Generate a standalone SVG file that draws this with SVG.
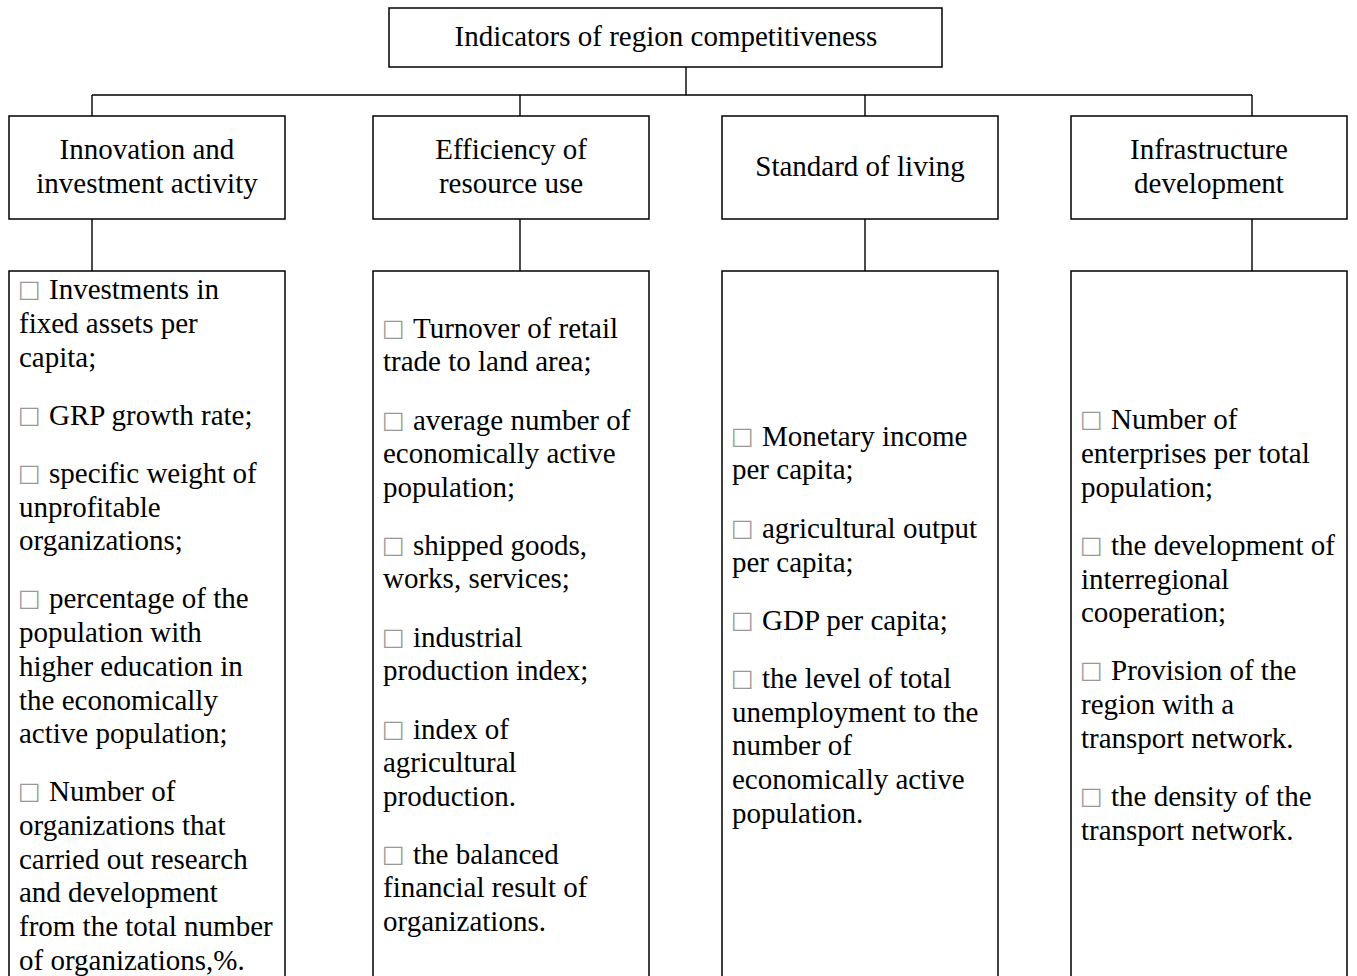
<svg xmlns="http://www.w3.org/2000/svg" width="1357" height="976" viewBox="0 0 1357 976">
<style>
.box{fill:#fff;stroke:#000;stroke-width:1.5}
.con{fill:none;stroke:#000;stroke-width:1.4}
text{font-family:"Liberation Serif","Times New Roman",serif;font-size:29px;fill:#000}
.c{text-anchor:middle}
.b{font-family:"DejaVu Sans",sans-serif;font-size:24px;fill:#999;baseline-shift:2px}
</style>
<rect width="1357" height="976" fill="#fff"/>
<g id="connectors">
<path class="con" d="M686 67V95M92 95H1252M92 95V116M520 95V116M865 95V116M1252 95V116"/>
<path class="con" d="M92 219V271M520 219V271M865 219V271M1252 219V271"/>
</g>
<g id="root">
<rect class="box" x="389" y="8" width="553" height="59"/>
<text class="c" x="666" y="46">Indicators of region competitiveness</text>
</g>
<g id="cat1">
<rect class="box" x="9" y="116" width="276" height="103"/>
<text class="c" x="147" y="159">Innovation and</text>
<text class="c" x="147" y="193">investment activity</text>
</g>
<g id="cat2">
<rect class="box" x="373" y="116" width="276" height="103"/>
<text class="c" x="511" y="159">Efficiency of</text>
<text class="c" x="511" y="193">resource use</text>
</g>
<g id="cat3">
<rect class="box" x="722" y="116" width="276" height="103"/>
<text class="c" x="860" y="176">Standard of living</text>
</g>
<g id="cat4">
<rect class="box" x="1071" y="116" width="276" height="103"/>
<text class="c" x="1209" y="159">Infrastructure</text>
<text class="c" x="1209" y="193">development</text>
</g>
<g id="list1">
<rect class="box" x="9" y="271" width="276" height="720"/>
<text x="19" y="299"><tspan class="b" x="18">□</tspan><tspan x="49">Investments in</tspan></text>
<text x="19" y="333">fixed assets per</text>
<text x="19" y="367">capita;</text>
<text x="19" y="425"><tspan class="b" x="18">□</tspan><tspan x="49">GRP growth rate;</tspan></text>
<text x="19" y="483"><tspan class="b" x="18">□</tspan><tspan x="49">specific weight of</tspan></text>
<text x="19" y="517">unprofitable</text>
<text x="19" y="550">organizations;</text>
<text x="19" y="608"><tspan class="b" x="18">□</tspan><tspan x="49">percentage of the</tspan></text>
<text x="19" y="642">population with</text>
<text x="19" y="676">higher education in</text>
<text x="19" y="710">the economically</text>
<text x="19" y="743">active population;</text>
<text x="19" y="801"><tspan class="b" x="18">□</tspan><tspan x="49">Number of</tspan></text>
<text x="19" y="835">organizations that</text>
<text x="19" y="869">carried out research</text>
<text x="19" y="902">and development</text>
<text x="19" y="936">from the total number</text>
<text x="19" y="970">of organizations,%.</text>
</g>
<g id="list2">
<rect class="box" x="373" y="271" width="276" height="720"/>
<text x="383" y="338"><tspan class="b" x="382">□</tspan><tspan x="413">Turnover of retail</tspan></text>
<text x="383" y="371">trade to land area;</text>
<text x="383" y="430"><tspan class="b" x="382">□</tspan><tspan x="413">average number of</tspan></text>
<text x="383" y="463">economically active</text>
<text x="383" y="497">population;</text>
<text x="383" y="555"><tspan class="b" x="382">□</tspan><tspan x="413">shipped goods,</tspan></text>
<text x="383" y="588">works, services;</text>
<text x="383" y="647"><tspan class="b" x="382">□</tspan><tspan x="413">industrial</tspan></text>
<text x="383" y="680">production index;</text>
<text x="383" y="739"><tspan class="b" x="382">□</tspan><tspan x="413">index of</tspan></text>
<text x="383" y="772">agricultural</text>
<text x="383" y="806">production.</text>
<text x="383" y="864"><tspan class="b" x="382">□</tspan><tspan x="413">the balanced</tspan></text>
<text x="383" y="897">financial result of</text>
<text x="383" y="931">organizations.</text>
</g>
<g id="list3">
<rect class="box" x="722" y="271" width="276" height="720"/>
<text x="732" y="446"><tspan class="b" x="731">□</tspan><tspan x="762">Monetary income</tspan></text>
<text x="732" y="479">per capita;</text>
<text x="732" y="538"><tspan class="b" x="731">□</tspan><tspan x="762">agricultural output</tspan></text>
<text x="732" y="572">per capita;</text>
<text x="732" y="630"><tspan class="b" x="731">□</tspan><tspan x="762">GDP per capita;</tspan></text>
<text x="732" y="688"><tspan class="b" x="731">□</tspan><tspan x="762">the level of total</tspan></text>
<text x="732" y="722">unemployment to the</text>
<text x="732" y="755">number of</text>
<text x="732" y="789">economically active</text>
<text x="732" y="823">population.</text>
</g>
<g id="list4">
<rect class="box" x="1071" y="271" width="276" height="720"/>
<text x="1081" y="429"><tspan class="b" x="1080">□</tspan><tspan x="1111">Number of</tspan></text>
<text x="1081" y="463">enterprises per total</text>
<text x="1081" y="497">population;</text>
<text x="1081" y="555"><tspan class="b" x="1080">□</tspan><tspan x="1111">the development of</tspan></text>
<text x="1081" y="589">interregional</text>
<text x="1081" y="622">cooperation;</text>
<text x="1081" y="680"><tspan class="b" x="1080">□</tspan><tspan x="1111">Provision of the</tspan></text>
<text x="1081" y="714">region with a</text>
<text x="1081" y="748">transport network.</text>
<text x="1081" y="806"><tspan class="b" x="1080">□</tspan><tspan x="1111">the density of the</tspan></text>
<text x="1081" y="840">transport network.</text>
</g>
</svg>
